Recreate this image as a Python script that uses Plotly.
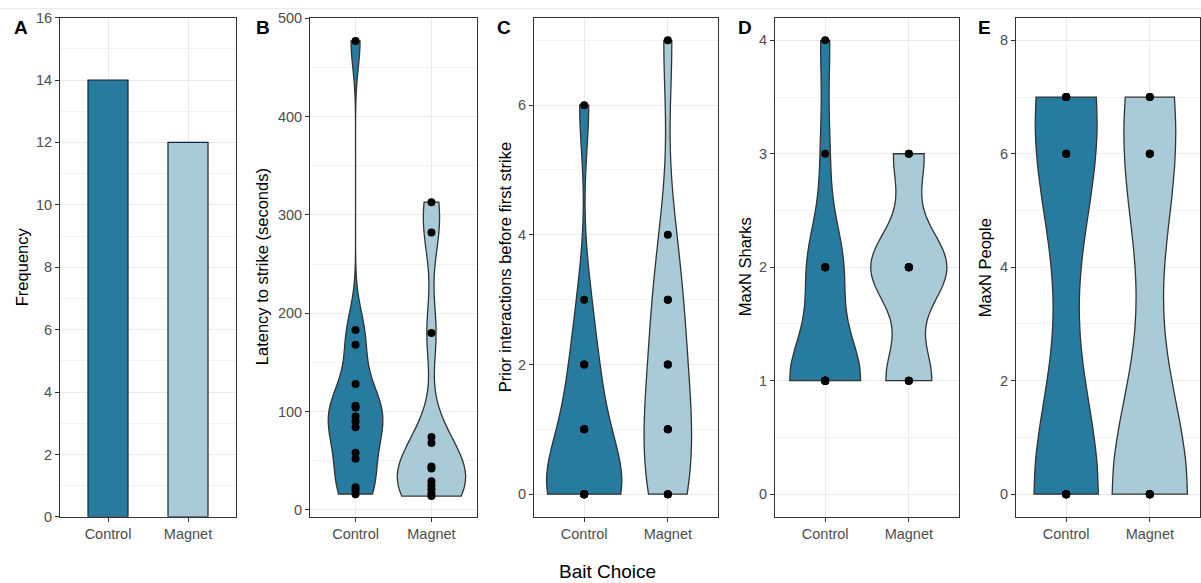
import numpy as np
import plotly.graph_objects as go

# ---- data -------------------------------------------------------------
groups = ["Control", "Magnet"]
frequency = [14, 12]

latency_control = [477, 183, 168, 128, 106, 104, 95, 90, 84, 58, 52, 23, 20, 16]
latency_magnet = [313, 282, 180, 74, 68, 44, 42, 29, 25, 21, 17, 14]

prior_control = [0, 0, 0, 0, 0, 0, 0, 1, 1, 1, 2, 2, 3, 6]
prior_magnet = [0, 0, 0, 1, 1, 1, 2, 2, 3, 3, 4, 7]

sharks_control = [1, 1, 1, 1, 1, 1, 1, 1, 2, 2, 2, 2, 3, 4]
sharks_magnet = [1, 1, 1, 2, 2, 2, 2, 2, 3, 3]

people_control = [0, 0, 0, 0, 0, 0, 0, 6, 6, 6, 7, 7, 7, 7]
people_magnet = [0, 0, 0, 0, 0, 0, 0, 6, 6, 6, 7, 7]

panel_letters = ["A", "B", "C", "D", "E"]
y_titles = ["Frequency", "Latency to strike (seconds)",
            "Prior interactions before first strike", "MaxN Sharks", "MaxN People"]
x_title = "Bait Choice"

# ---- styling ------------------------------------------------------------
DARK = "#267B9F"
LIGHT = "#A9CAD7"
OUTLINE = "#333333"
GRID = "#EBEBEB"
GRID_MINOR = "#F3F3F3"
FONT = "Liberation Sans, Arial, sans-serif"
W, H = 1201, 583
TOP_PX, BOTTOM_PX = 15, 516.5
x_px = [(60, 236), (310, 477), (534, 718), (775, 959), (1016, 1200)]
y_ranges = [(0, 16), (-7.1, 500.7), (-0.35, 7.35), (-0.2, 4.2), (-0.4, 8.4)]
y_dticks = [2, 100, 2, 1, 2]
letter_x = [21, 263, 504, 745, 984]
title_x = [22, 262, 505, 745, 985]


def py(p):
    """Vertical pixel position (from the top) -> paper fraction."""
    q = (p - 5.34) / 0.977
    return 1 - q / H


def bw_nrd0(values):
    """Silverman's rule of thumb as used by R's bw.nrd0."""
    x = np.asarray(values, dtype=float)
    hi = np.std(x, ddof=1)
    q75, q25 = np.percentile(x, [75, 25])
    lo = min(hi, (q75 - q25) / 1.34)
    if lo == 0:
        lo = hi or abs(x[0]) or 1.0
    return 0.9 * lo * len(x) ** -0.2


fig = go.Figure()

# Panel A: counts per bait choice
fig.add_trace(go.Bar(
    x=[1, 2], y=frequency, width=0.5,
    marker=dict(color=[DARK, LIGHT], line=dict(color="#0E2436", width=1.2)),
    xaxis="x", yaxis="y", showlegend=False, hoverinfo="x+y",
))

# Panels B-E: violins with raw observations
violin_sets = [
    (latency_control, latency_magnet),
    (prior_control, prior_magnet),
    (sharks_control, sharks_magnet),
    (people_control, people_magnet),
]
for k, (ctrl, mag) in enumerate(violin_sets, start=2):
    for pos, vals, col in ((1, ctrl, DARK), (2, mag, LIGHT)):
        fig.add_trace(go.Violin(
            x0=pos, y=vals,
            bandwidth=bw_nrd0(vals), spanmode="hard",
            scalegroup=f"panel{k}", scalemode="width",
            fillcolor=col, opacity=1,
            line=dict(color=OUTLINE, width=1.3),
            points="all", jitter=0, pointpos=0,
            marker=dict(color="black", size=8),
            box_visible=False, meanline_visible=False,
            xaxis=f"x{k}", yaxis=f"y{k}", showlegend=False,
            name=groups[pos - 1],
        ))

layout = dict(
    width=W, height=H,
    margin=dict(l=0, r=0, t=0, b=0),
    paper_bgcolor="white", plot_bgcolor="white",
    violinmode="overlay", violingap=0.1, violingroupgap=0,
    font=dict(family=FONT, color="#4D4D4D"),
    showlegend=False,
)

y_dom = [py(BOTTOM_PX), py(TOP_PX)]
for i in range(5):
    suffix = "" if i == 0 else str(i + 1)
    x0, x1 = x_px[i]
    common = dict(
        showline=True, mirror=True, linecolor=OUTLINE, linewidth=1,
        ticks="outside", ticklen=4, tickcolor=OUTLINE, tickwidth=1,
        tickfont=dict(family=FONT, size=14.5, color="#4D4D4D"),
        zeroline=False, showgrid=True, gridcolor=GRID, gridwidth=1,
        fixedrange=True,
    )
    layout["xaxis" + suffix] = dict(
        common, domain=[x0 / W, x1 / W], range=[0.4, 2.6],
        tickmode="array", tickvals=[1, 2], ticktext=groups,
        anchor="y" + suffix,
    )
    d = y_dticks[i]
    layout["yaxis" + suffix] = dict(
        common, domain=y_dom, range=list(y_ranges[i]),
        tick0=0, dtick=d,
        minor=dict(tick0=0, dtick=d / 2, showgrid=True,
                   gridcolor=GRID_MINOR, gridwidth=1, ticks=""),
        anchor="x" + suffix,
    )

annotations = []
for i in range(5):
    annotations.append(dict(
        text=f"<b>{panel_letters[i]}</b>", x=letter_x[i] / W, y=py(25),
        xref="paper", yref="paper", xanchor="center", yanchor="middle",
        showarrow=False, font=dict(family=FONT, size=19, color="black"),
    ))
    annotations.append(dict(
        text=y_titles[i], x=title_x[i] / W, y=py((TOP_PX + BOTTOM_PX) / 2),
        xref="paper", yref="paper", xanchor="center", yanchor="middle",
        textangle=-90, showarrow=False,
        font=dict(family=FONT, size=16.5, color="black"),
    ))
annotations.append(dict(
    text=x_title, x=607 / W, y=py(571),
    xref="paper", yref="paper", xanchor="center", yanchor="middle",
    showarrow=False, font=dict(family=FONT, size=19, color="black"),
))
layout["annotations"] = annotations
layout["shapes"] = [dict(
    type="line", xref="paper", yref="paper", x0=0, x1=1,
    y0=py(6), y1=py(6), line=dict(color="#E8E8E8", width=1),
)]

fig.update_layout(**layout)
fig.write_html("out.html")
